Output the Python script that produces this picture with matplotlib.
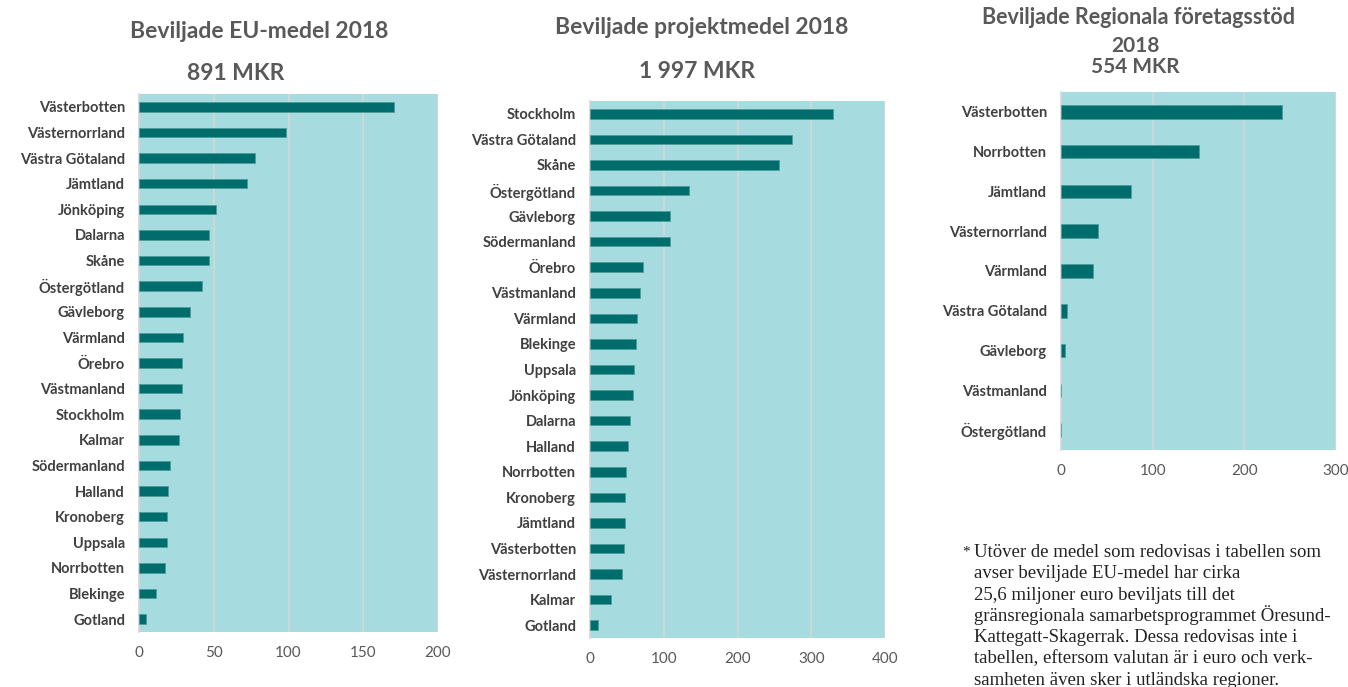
import matplotlib
matplotlib.use("Agg")
import matplotlib.pyplot as plt

plt.rcParams['font.family'] = ['Lato', 'DejaVu Sans']

# Beviljade EU-medel 2018 (MKR)
eu_regioner = ["Västerbotten", "Västernorrland", "Västra Götaland", "Jämtland", "Jönköping",
               "Dalarna", "Skåne", "Östergötland", "Gävleborg", "Värmland", "Örebro",
               "Västmanland", "Stockholm", "Kalmar", "Södermanland", "Halland", "Kronoberg",
               "Uppsala", "Norrbotten", "Blekinge", "Gotland"]
eu_varden = [170.5, 98, 77.5, 72.5, 51.5, 46.5, 46.5, 42, 34, 29.5, 28.5,
             28.5, 27.5, 26.5, 20.5, 19.5, 18.5, 18.5, 17.5, 11.5, 5]

# Beviljade projektmedel 2018 (MKR)
proj_regioner = ["Stockholm", "Västra Götaland", "Skåne", "Östergötland", "Gävleborg",
                 "Södermanland", "Örebro", "Västmanland", "Värmland", "Blekinge", "Uppsala",
                 "Jönköping", "Dalarna", "Halland", "Norrbotten", "Kronoberg", "Jämtland",
                 "Västerbotten", "Västernorrland", "Kalmar", "Gotland"]
proj_varden = [330, 274.5, 256.5, 134, 109, 109, 72.5, 67.5, 63.5, 62, 60,
               58, 54, 51, 49, 47.5, 47.5, 45.5, 43.5, 29, 11]

# Beviljade Regionala företagsstöd 2018 (MKR)
rf_regioner = ["Västerbotten", "Norrbotten", "Jämtland", "Västernorrland", "Värmland",
               "Västra Götaland", "Gävleborg", "Västmanland", "Östergötland"]
rf_varden = [241, 150, 76, 40, 34.5, 6, 4.5, 0.4, 0.4]

fot_rader = ["Utöver de medel som redovisas i tabellen som",
             "avser beviljade EU-medel har cirka",
             "25,6 miljoner euro beviljats till det",
             "gränsregionala samarbetsprogrammet Öresund-",
             "Kattegatt-Skagerrak. Dessa redovisas inte i",
             "tabellen, eftersom valutan är i euro och verk-",
             "samheten även sker i utländska regioner."]

W, H = 1348, 687
fig = plt.figure(figsize=(W / 100, H / 100), dpi=100)

bakgrund = '#A6DCDF'
stapel = '#006D6D'
grid = '#D6D6D6'
textfarg = '#404040'
titelfarg = '#595959'


def rita(rect, regioner, varden, xmax, steg, hojd):
    l, t, w, h = rect
    ax = fig.add_axes([l / W, (H - t - h) / H, w / W, h / H])
    ax.set_facecolor(bakgrund)
    y = range(len(regioner))
    ax.barh(y, varden, height=hojd, color=stapel, edgecolor='#4E9E9E', linewidth=0.6, zorder=3)
    ax.set_xlim(0, xmax)
    ax.set_ylim(len(regioner) - 0.5, -0.5)
    ax.set_xticks(range(0, xmax + 1, steg))
    ax.set_yticks(list(y))
    ax.set_yticklabels(regioner, fontsize=10.5, fontweight='bold', color=textfarg)
    ax.tick_params(axis='x', length=0, pad=10, labelsize=11, labelcolor=titelfarg)
    ax.tick_params(axis='y', length=0, pad=10)
    ax.grid(axis='x', color=grid, linewidth=1.2, zorder=1)
    for s in ['top', 'right', 'bottom']:
        ax.spines[s].set_visible(False)
    ax.spines['left'].set_color(grid)
    ax.spines['left'].set_linewidth(1.2)
    return ax


rita((139, 94, 299, 538), eu_regioner, eu_varden, 200, 50, 0.37)
rita((590, 101, 295, 537), proj_regioner, proj_varden, 400, 100, 0.37)
rita((1061, 92, 275, 358), rf_regioner, rf_varden, 300, 100, 0.34)


def titel(x, y, s, size=16.5):
    fig.text(x / W, 1 - y / H, s, ha='center', va='center', fontsize=size,
             fontweight='bold', color=titelfarg)


titel(259, 32, "Beviljade EU-medel 2018")
titel(236, 74, "891 MKR")
titel(702, 28, "Beviljade projektmedel 2018")
titel(697, 72, "1 997 MKR")
titel(1138, 18, "Beviljade Regionala företagsstöd", 15.5)
titel(1135, 46, "2018", 15)
titel(1135, 67, "554 MKR", 15)

# fotnot, en rad i taget så att radavståndet blir jämnt
fig.text(962 / W, 1 - 552 / H, "*", ha='left', va='center', fontsize=11,
         family='Liberation Serif', color='#222222')
for i, rad in enumerate(fot_rader):
    fig.text(974 / W, 1 - (557 + 21.3 * i) / H, rad, ha='left', va='baseline',
             fontsize=13.5, family='Liberation Serif', color='#222222')

fig.savefig("out.png", dpi=100)
